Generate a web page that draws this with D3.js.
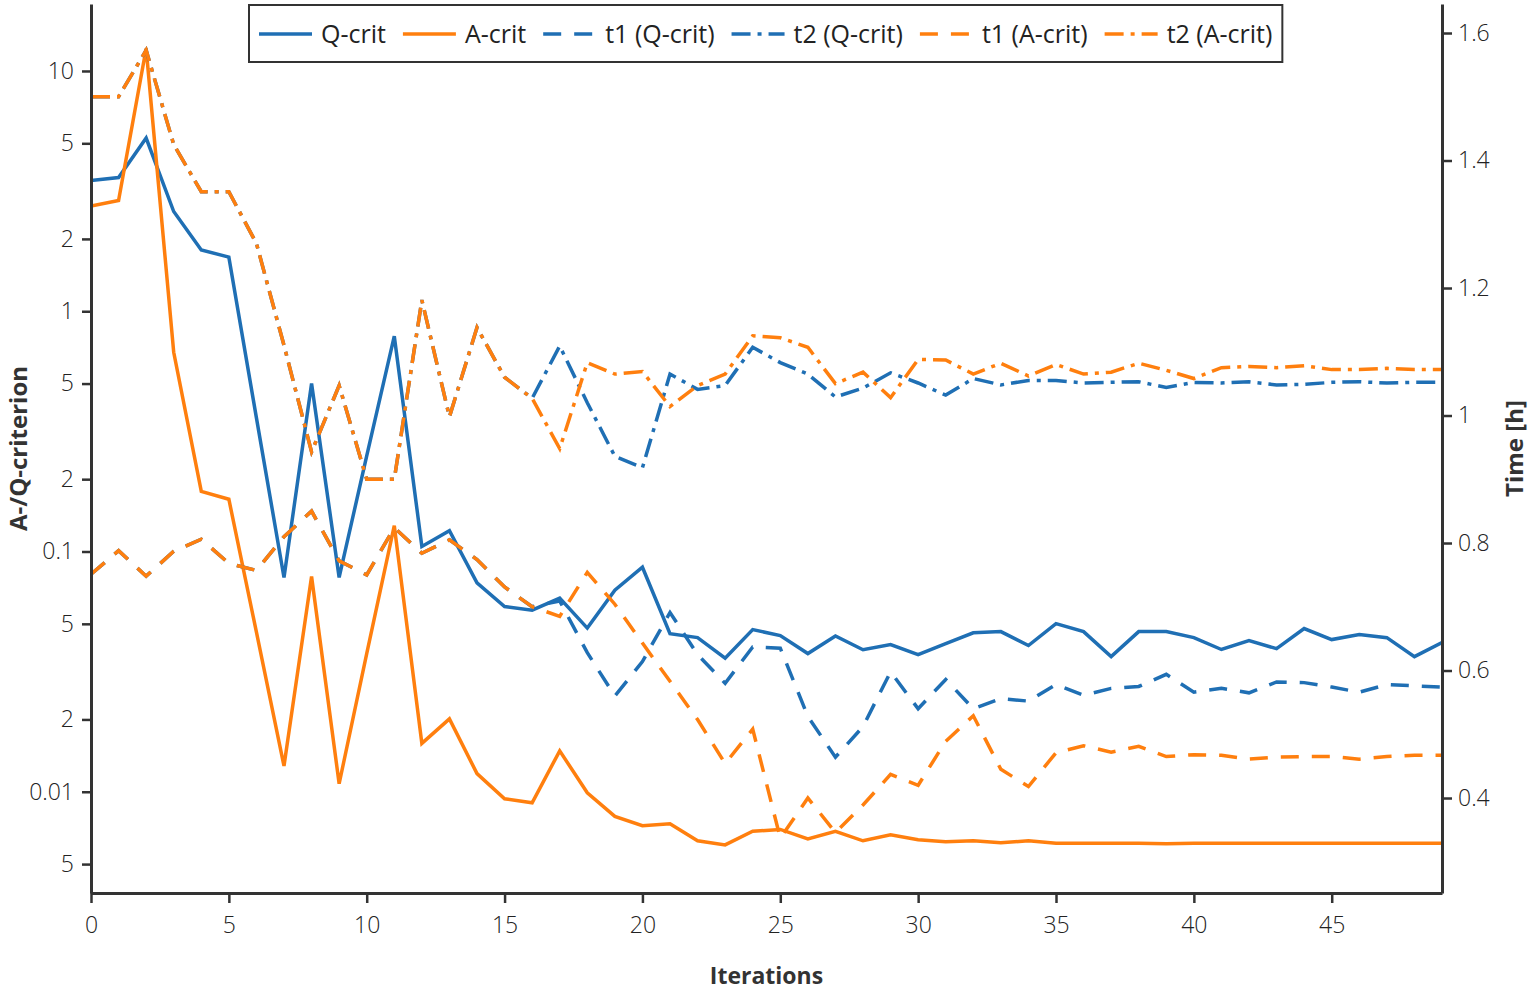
<!DOCTYPE html>
<html><head><meta charset="utf-8">
<script src="https://cdn.jsdelivr.net/npm/d3@7"></script>
<style>
body{margin:0;background:#fff;}
text{font-family:"Open Sans",sans-serif;}
</style></head><body>
<svg id="chart" width="1530" height="990"></svg>
<script>
const iterations = [0,1,2,3,4,5,6,7,8,9,10,11,12,13,14,15,16,17,18,19,20,21,22,23,24,25,26,27,28,29,30,31,32,33,34,35,36,37,38,39,40,41,42,43,44,45,46,47,48,49];

const qCrit = [3.5,3.6,5.26,2.6,1.8,1.68,0.36,0.078,0.50,0.078,0.25,0.787,0.105,0.122,0.074,0.059,0.057,0.064,0.048,0.069,0.086,0.0455,0.0438,0.036,0.0473,0.0447,0.0376,0.0445,0.039,0.041,0.0372,0.0414,0.0459,0.0464,0.0406,0.0501,0.0464,0.0365,0.0464,0.0464,0.0438,0.0391,0.0426,0.0394,0.0478,0.043,0.0451,0.0438,0.0365,0.0418];

const aCrit = [2.74,2.89,12.4,0.675,0.178,0.165,0.0462,0.0128,0.0787,0.0108,0.0376,0.128,0.0159,0.0201,0.0119,0.00935,0.0090,0.0148,0.0099,0.0079,0.00722,0.00736,0.00625,0.00601,0.00685,0.00697,0.00637,0.00685,0.00625,0.00662,0.00631,0.0062,0.00625,0.00614,0.00625,0.0061,0.0061,0.0061,0.0061,0.00608,0.0061,0.0061,0.0061,0.0061,0.0061,0.0061,0.0061,0.0061,0.0061,0.0061];

const t1Q = [0.751,0.788,0.748,0.787,0.806,0.768,0.757,0.81,0.85,0.772,0.750,0.824,0.784,0.805,0.774,0.731,0.700,0.709,0.628,0.56,0.614,0.691,0.625,0.580,0.637,0.635,0.528,0.464,0.512,0.598,0.540,0.586,0.540,0.556,0.552,0.578,0.561,0.572,0.575,0.594,0.566,0.572,0.565,0.582,0.581,0.574,0.566,0.578,0.576,0.574];

const t2Q = [1.500,1.500,1.573,1.425,1.351,1.351,1.27,1.11,0.943,1.047,0.900,0.900,1.181,0.998,1.138,1.060,1.027,1.109,1.020,0.936,0.918,1.065,1.041,1.047,1.107,1.083,1.065,1.029,1.043,1.067,1.051,1.032,1.058,1.048,1.055,1.055,1.051,1.052,1.053,1.044,1.052,1.051,1.053,1.048,1.049,1.052,1.053,1.051,1.052,1.052];

const t1A = [0.751,0.788,0.748,0.787,0.806,0.768,0.757,0.81,0.85,0.772,0.750,0.824,0.784,0.805,0.774,0.731,0.700,0.685,0.754,0.704,0.643,0.583,0.523,0.454,0.508,0.337,0.40,0.346,0.389,0.437,0.420,0.489,0.529,0.445,0.418,0.471,0.482,0.472,0.481,0.465,0.468,0.467,0.461,0.464,0.465,0.465,0.461,0.465,0.467,0.467];

const t2A = [1.500,1.500,1.573,1.425,1.351,1.351,1.27,1.11,0.943,1.047,0.900,0.900,1.181,0.998,1.138,1.060,1.027,0.948,1.083,1.065,1.069,1.014,1.047,1.065,1.125,1.122,1.107,1.050,1.068,1.028,1.088,1.087,1.065,1.082,1.062,1.080,1.065,1.068,1.082,1.071,1.058,1.075,1.077,1.075,1.078,1.072,1.072,1.074,1.072,1.072];

const seriesNames = ["Q-crit","A-crit","t1 (Q-crit)","t2 (Q-crit)","t1 (A-crit)","t2 (A-crit)"];

const xTicks = [0,5,10,15,20,25,30,35,40,45];
const leftTicks = [10,5,2,1,0.5,0.2,0.1,0.05,0.02,0.01,0.005];
const leftTickLabels = ["10","5","2","1","5","2","0.1","5","2","0.01","5"];
const rightTicks = [1.6,1.4,1.2,1,0.8,0.6,0.4];
const rightTickLabels = ["1.6","1.4","1.2","1","0.8","0.6","0.4"];

const xTitle = "Iterations", yLeftTitle = "A-/Q-criterion", yRightTitle = "Time [h]";

// ---- layout ----
const L = 91, R = 1442, T = 4, B = 893;
const BLUE = "#1f6fb4", ORANGE = "#ff7f0e", AX = "#333";
const DASH = "18,13", DASHDOT = "19,7,4,7";
const LW = 3.5;

const svg = d3.select("#chart");
const x = d3.scaleLinear().domain([0,49]).range([L,R]);
const yL = d3.scaleLog().domain([0.00379,19]).range([B,T]);
const yR = d3.scaleLinear().domain([0.251,1.6455]).range([B,T]);

function styleAxis(g){
  g.selectAll(".domain").attr("stroke",AX).attr("stroke-width",3);
  g.selectAll(".tick line").attr("stroke",AX).attr("stroke-width",2.5);
  g.selectAll(".tick text").attr("fill","#222").style("font-size","23px").style("font-weight","300").style("font-family","'Open Sans',sans-serif");
}

const lineL = d3.line().x((d,i)=>x(iterations[i])).y(d=>yL(d));
const lineR = d3.line().x((d,i)=>x(iterations[i])).y(d=>yR(d));

const series = [
  {data:qCrit, gen:lineL, color:BLUE, dash:null},
  {data:aCrit, gen:lineL, color:ORANGE, dash:null},
  {data:t1Q, gen:lineR, color:BLUE, dash:DASH},
  {data:t2Q, gen:lineR, color:BLUE, dash:DASHDOT},
  {data:t1A, gen:lineR, color:ORANGE, dash:DASH},
  {data:t2A, gen:lineR, color:ORANGE, dash:DASHDOT}
];

svg.append("defs").append("clipPath").attr("id","clip")
  .append("rect").attr("x",L).attr("y",T).attr("width",R-L).attr("height",B-T);

const plot = svg.append("g").attr("clip-path","url(#clip)");
series.forEach(s=>{
  plot.append("path").attr("d",s.gen(s.data)).attr("fill","none")
    .attr("stroke",s.color).attr("stroke-width",LW)
    .attr("stroke-linejoin","miter")
    .attr("stroke-dasharray",s.dash);
});

// axes
const gx = svg.append("g").attr("transform",`translate(0,${B})`)
  .call(d3.axisBottom(x).tickValues(xTicks).tickFormat(d3.format("d")).tickSize(10).tickSizeOuter(0).tickPadding(14));
styleAxis(gx);
const gl = svg.append("g").attr("transform",`translate(${L},0)`)
  .call(d3.axisLeft(yL).tickValues(leftTicks).tickFormat((d,i)=>leftTickLabels[i]).tickSize(9).tickSizeOuter(0).tickPadding(8));
styleAxis(gl);
const gr = svg.append("g").attr("transform",`translate(${R},0)`)
  .call(d3.axisRight(yR).tickValues(rightTicks).tickFormat((d,i)=>rightTickLabels[i]).tickSize(10).tickSizeOuter(0).tickPadding(6));
styleAxis(gr);

// titles
svg.append("text").attr("x",(L+R)/2).attr("y",984).attr("text-anchor","middle")
  .attr("fill",AX).style("font-size","23px").style("font-weight","bold").text(xTitle);
svg.append("text").attr("transform",`translate(27,${(T+B)/2}) rotate(-90)`).attr("text-anchor","middle")
  .attr("fill",AX).style("font-size","24px").style("font-weight","bold").text(yLeftTitle);
svg.append("text").attr("transform",`translate(1523,${(T+B)/2}) rotate(-90)`).attr("text-anchor","middle")
  .attr("fill",AX).style("font-size","24px").style("font-weight","bold").text(yRightTitle);

// legend
const lg = svg.append("g");
const box = lg.append("rect").attr("x",249).attr("y",5).attr("height",57)
  .attr("fill","#fff").attr("stroke",AX).attr("stroke-width",2);
let cx = 259;
const cy = 34;
const GAP = 17;
series.forEach((s,i)=>{
  lg.append("line").attr("x1",cx).attr("x2",cx+53).attr("y1",cy).attr("y2",cy)
    .attr("stroke",s.color).attr("stroke-width",LW).attr("stroke-dasharray",s.dash);
  const t = lg.append("text").attr("x",cx+62).attr("y",cy+9).attr("fill","#222")
    .style("font-size","25px").style("font-weight","400").text(seriesNames[i]);
  const w = t.node().getComputedTextLength();
  cx = cx + 62 + w + GAP;
});
box.attr("width", cx - GAP + 10 - 249);
</script>
</body></html>
